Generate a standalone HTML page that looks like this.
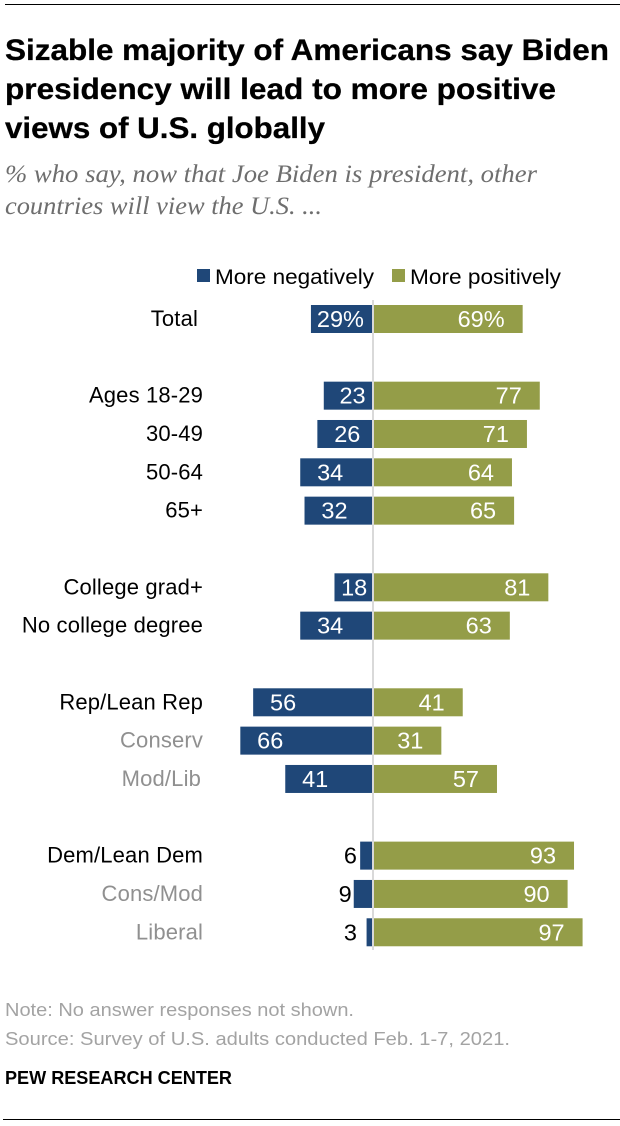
<!DOCTYPE html>
<html lang="en">
<head>
<meta charset="utf-8">
<title>Sizable majority of Americans say Biden presidency will lead to more positive views of U.S. globally</title>
<style>
  html, body { margin: 0; padding: 0; background: #fff; }
  svg { display: block; }
  text { font-family: "Liberation Sans", sans-serif; }
  .title { font-weight: 700; font-size: 30px; fill: #000; stroke: #000; stroke-width: .3px; }
  .sub { font-family: "Liberation Serif", serif; font-style: italic; font-size: 25px; fill: #6e6e6e; }
  .lab { font-size: 22px; letter-spacing: .15px; }
  .legend { font-size: 21px; }
  .val { font-size: 23.5px; }
  .note { font-size: 18px; fill: #a3a3a3; }
</style>
</head>
<body>
<svg id="chart" xmlns="http://www.w3.org/2000/svg" width="620" height="1126" viewBox="0 0 620 1126">
  <rect x="0" y="0" width="620" height="1126" fill="#fff"/>
  <rect x="5" y="4" width="615" height="1" fill="#000"/>
  <text class="title" x="5" y="60" textLength="604" lengthAdjust="spacingAndGlyphs">Sizable majority of Americans say Biden</text>
  <text class="title" x="5" y="99" textLength="551" lengthAdjust="spacingAndGlyphs">presidency will lead to more positive</text>
  <text class="title" x="5" y="138" textLength="320" lengthAdjust="spacingAndGlyphs">views of U.S. globally</text>
  <text class="sub" x="5" y="182" textLength="532" lengthAdjust="spacingAndGlyphs">% who say, now that Joe Biden is president, other</text>
  <text class="sub" x="5" y="214" textLength="317" lengthAdjust="spacingAndGlyphs">countries will view the U.S. ...</text>

  <rect x="197" y="269" width="13" height="13" fill="#1f4778"/>
  <text class="legend" x="215" y="284" textLength="159" lengthAdjust="spacingAndGlyphs" fill="#000">More negatively</text>
  <rect x="392" y="269" width="13" height="13" fill="#949d48"/>
  <text class="legend" x="410" y="284" textLength="151" lengthAdjust="spacingAndGlyphs" fill="#000">More positively</text>

  <g id="marks"></g>
  <rect x="372" y="300" width="2" height="650" fill="#d9d9d9"/>
  <g id="valueLabels"></g>

  <text class="note" x="5" y="1016" textLength="349" lengthAdjust="spacingAndGlyphs">Note: No answer responses not shown.</text>
  <text class="note" x="5" y="1045" textLength="505" lengthAdjust="spacingAndGlyphs">Source: Survey of U.S. adults conducted Feb. 1-7, 2021.</text>
  <text x="5" y="1084" font-size="18" font-weight="700" textLength="227" lengthAdjust="spacingAndGlyphs" fill="#000">PEW RESEARCH CENTER</text>
  <rect x="3" y="1119" width="617" height="1" fill="#000"/>
</svg>
<script>
// Chart data
const categories = ["Total", "Ages 18-29", "30-49", "50-64", "65+", "College grad+", "No college degree", "Rep/Lean Rep", "Conserv", "Mod/Lib", "Dem/Lean Dem", "Cons/Mod", "Liberal"];
const groups = [0, 1, 1, 1, 1, 2, 2, 3, 3, 3, 4, 4, 4];
const subgroup = [false, false, false, false, false, false, false, false, true, true, false, true, true];
// Bar lengths as drawn in the picture. The Conserv bar is drawn shorter than its printed 66.
const negativeBars = [29, 23, 26, 34, 32, 18, 34, 56, 62, 41, 6, 9, 3];
const positiveBars = [69, 77, 71, 64, 65, 81, 63, 41, 31, 57, 93, 90, 97];
// Printed values
const negativeLabels = ["29%", "23", "26", "34", "32", "18", "34", "56", "66", "41", "6", "9", "3"];
const positiveLabels = ["69%", "77", "71", "64", "65", "81", "63", "41", "31", "57", "93", "90", "97"];

const SVG_NS = "http://www.w3.org/2000/svg";
const marks = document.getElementById("marks");
const valueLabels = document.getElementById("valueLabels");
const slug = s => s.toLowerCase().replace(/[^a-z0-9]+/g, "-").replace(/^-|-$/g, "");

// Axis functions
const UNIT = 2.14;
const widthOf = v => v * UNIT;
const rowCenter = (i, g) => 319 + 38.33 * (i + g);

function makeText(x, y, anchor, cls, fill, str) {
  const t = document.createElementNS(SVG_NS, "text");
  t.setAttribute("x", x);
  t.setAttribute("y", y);
  t.setAttribute("text-anchor", anchor);
  t.setAttribute("class", cls);
  t.setAttribute("fill", fill);
  t.textContent = str;
  return t;
}

categories.forEach((cat, i) => {
  const cy = rowCenter(i, groups[i]);
  const name = slug(cat);

  const labelRight = cat === "Total" ? 198 : cat === "Mod/Lib" ? 201 : 203;
  const rowLabel = makeText(labelRight, cy + 7, "end", "lab", subgroup[i] ? "#909090" : "#000", cat);
  
  
  marks.appendChild(rowLabel);

  const negW = widthOf(negativeBars[i]);
  const negLeft = 373 - negW;
  const neg = document.createElementNS(SVG_NS, "rect");
  neg.setAttribute("x", negLeft);
  neg.setAttribute("y", cy - 14);
  neg.setAttribute("width", negW);
  neg.setAttribute("height", 28);
  neg.setAttribute("fill", "#1f4778");
  
  
  marks.appendChild(neg);

  const posW = widthOf(positiveBars[i]) + 1;
  const pos = document.createElementNS(SVG_NS, "rect");
  pos.setAttribute("x", 374);
  pos.setAttribute("y", cy - 14);
  pos.setAttribute("width", posW);
  pos.setAttribute("height", 28);
  pos.setAttribute("fill", "#949d48");
  
  
  marks.appendChild(pos);

  // Short bars carry their value outside in dark text; the rest inside in white.
  let negText;
  if (negW < 30) {
    negText = makeText(Math.min(357, negLeft - 2), cy + 8, "end", "val", "#000", negativeLabels[i]);
  } else {
    const inset = Math.min(43, negW * 0.85);
    const pctShift = negativeLabels[i].includes("%") ? 10 : 0;
    negText = makeText(Math.max(275, negLeft + inset + pctShift), cy + 8, "end", "val", "#fff", negativeLabels[i]);
  }
  
  
  valueLabels.appendChild(negText);

  const posText = makeText(374 + posW - 18, cy + 8, "end", "val", "#fff", positiveLabels[i]);
  
  
  valueLabels.appendChild(posText);
});
</script>
</body>
</html>
